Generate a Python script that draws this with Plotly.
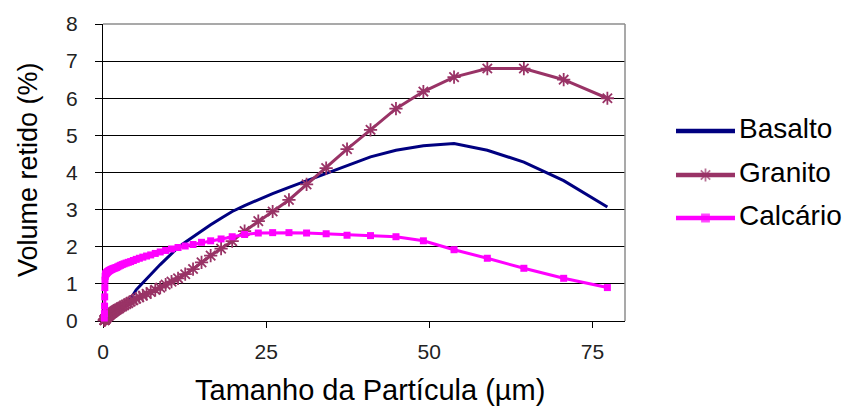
import plotly.graph_objects as go

# Particle size classes (µm) and retained volume (%) per material
size_um = [0.20, 0.22, 0.24, 0.26, 0.28, 0.31, 0.34, 0.37, 0.40, 0.44, 0.48, 0.53,
           0.58, 0.63, 0.69, 0.76, 0.83, 0.91, 0.99, 1.09, 1.19, 1.30, 1.43, 1.56,
           1.71, 1.87, 2.05, 2.25, 2.46, 2.70, 2.95, 3.23, 3.54, 3.87, 4.24, 4.65,
           5.09, 5.57, 6.10, 6.68, 7.31, 8.01, 8.77, 9.6, 10.5, 11.5, 12.6, 13.8,
           15.1, 16.5, 18.1, 19.8, 21.7, 23.8, 26.0, 28.5, 31.2, 34.2, 37.4, 41.0,
           44.9, 49.1, 53.8, 58.9, 64.5, 70.6, 77.3]

basalto = [0.00, 0.00, 0.01, 0.01, 0.01, 0.02, 0.02, 0.03, 0.03, 0.04, 0.04, 0.05,
           0.05, 0.06, 0.07, 0.08, 0.09, 0.10, 0.11, 0.12, 0.13, 0.14, 0.15, 0.17,
           0.19, 0.21, 0.23, 0.25, 0.28, 0.31, 0.34, 0.38, 0.43, 0.50, 0.60, 0.72,
           0.84, 0.93, 1.03, 1.13, 1.25, 1.38, 1.52, 1.66, 1.82, 1.98, 2.12, 2.27,
           2.42, 2.59, 2.77, 2.95, 3.11, 3.27, 3.43, 3.60, 3.78, 3.98, 4.20, 4.42,
           4.60, 4.72, 4.78, 4.60, 4.28, 3.78, 3.07]

granito = [0.02, 0.02, 0.03, 0.03, 0.04, 0.04, 0.05, 0.05, 0.06, 0.07, 0.08, 0.09,
           0.10, 0.11, 0.12, 0.13, 0.14, 0.15, 0.16, 0.18, 0.19, 0.21, 0.22, 0.24,
           0.26, 0.28, 0.30, 0.32, 0.34, 0.37, 0.39, 0.42, 0.45, 0.48, 0.52, 0.56,
           0.60, 0.64, 0.68, 0.73, 0.78, 0.84, 0.90, 0.98, 1.06, 1.15, 1.26, 1.40,
           1.58, 1.76, 1.95, 2.15, 2.42, 2.69, 2.95, 3.26, 3.68, 4.12, 4.63, 5.15,
           5.72, 6.18, 6.57, 6.80, 6.80, 6.50, 6.00]

calcario = [0.08, 0.20, 0.40, 0.65, 0.90, 1.10, 1.20, 1.24, 1.26, 1.27, 1.28, 1.29,
            1.30, 1.31, 1.32, 1.33, 1.34, 1.35, 1.36, 1.37, 1.38, 1.39, 1.40, 1.41,
            1.42, 1.43, 1.44, 1.46, 1.48, 1.50, 1.52, 1.54, 1.56, 1.58, 1.60, 1.63,
            1.66, 1.69, 1.72, 1.75, 1.78, 1.82, 1.86, 1.90, 1.94, 1.98, 2.02, 2.06,
            2.12, 2.16, 2.21, 2.27, 2.33, 2.37, 2.38, 2.38, 2.37, 2.35, 2.31, 2.30,
            2.27, 2.16, 1.92, 1.69, 1.42, 1.15, 0.90]

series_names = ["Basalto", "Granito", "Calcário"]
x_ticks = [0, 25, 50, 75]

W, H = 844, 408
FONT = "Liberation Sans, Arial, sans-serif"
NAVY, PLUM, MAGENTA = "#000080", "#993366", "#FF00FF"

# Plot area in pixels
PX_L, PX_R, PX_T, PX_B = 103, 625, 24, 321

STAR = dict(symbol="asterisk-open", size=11, line=dict(color=PLUM, width=1.8))

fig = go.Figure()

fig.add_trace(go.Scatter(x=size_um, y=basalto, mode="lines", name=series_names[0],
                         line=dict(color=NAVY, width=3), cliponaxis=False))
fig.add_trace(go.Scatter(x=size_um, y=granito, mode="lines+markers", name=series_names[1],
                         line=dict(color=PLUM, width=3), marker=STAR, cliponaxis=False))
fig.add_trace(go.Scatter(x=size_um, y=calcario, mode="lines+markers", name=series_names[2],
                         line=dict(color=MAGENTA, width=3),
                         marker=dict(symbol="square", size=7, color=MAGENTA),
                         cliponaxis=False))

# Legend drawn on a pixel-space overlay: line sample with one marker in the middle
leg_rows = [131, 175, 218]
leg_x0, leg_x1 = 676, 735
leg_styles = [
    dict(color=NAVY, symbol=None, msize=0),
    dict(color=PLUM, symbol="asterisk-open", msize=11),
    dict(color=MAGENTA, symbol="square", msize=7),
]
for yrow, st in zip(leg_rows, leg_styles):
    xs = [leg_x0, (leg_x0 + leg_x1) / 2, leg_x1]
    if st["symbol"] is None:
        fig.add_trace(go.Scatter(x=xs, y=[yrow] * 3, mode="lines",
                                 line=dict(color=st["color"], width=4.5),
                                 xaxis="x2", yaxis="y2", hoverinfo="skip", showlegend=False))
    else:
        fig.add_trace(go.Scatter(x=xs, y=[yrow] * 3, mode="lines+markers",
                                 line=dict(color=st["color"], width=4.5),
                                 marker=dict(symbol=st["symbol"], size=[0, st["msize"], 0],
                                             color=st["color"],
                                             line=dict(color=st["color"], width=1.8)),
                                 xaxis="x2", yaxis="y2", hoverinfo="skip", showlegend=False))

annotations = []
for yrow, name in zip(leg_rows, series_names):
    annotations.append(dict(text=name, x=737 / W, y=1 - (yrow - 3) / H, xref="paper", yref="paper",
                            xanchor="left", yanchor="middle", showarrow=False,
                            font=dict(family=FONT, size=28, color="black")))
annotations.append(dict(text="Volume retido (%)", x=28 / W, y=1 - 170 / H, xref="paper", yref="paper",
                        textangle=-90, xanchor="center", yanchor="middle", showarrow=False,
                        font=dict(family=FONT, size=27, color="black")))
annotations.append(dict(text="Tamanho da Partícula (µm)", x=370 / W, y=1 - 390 / H,
                        xref="paper", yref="paper", xanchor="center", yanchor="middle",
                        showarrow=False, font=dict(family=FONT, size=29, color="black")))

shapes = [
    dict(type="line", xref="x domain", yref="y domain", x0=0, x1=1, y0=1, y1=1,
         line=dict(color="#8C8C8C", width=1.5), layer="above"),
    dict(type="line", xref="x domain", yref="y domain", x0=1, x1=1, y0=0, y1=1,
         line=dict(color="#8C8C8C", width=1.5), layer="above"),
]

fig.update_layout(
    width=W, height=H,
    margin=dict(l=0, r=0, t=0, b=0),
    paper_bgcolor="white", plot_bgcolor="rgba(0,0,0,0)",
    showlegend=False,
    font=dict(family=FONT, color="black"),
    xaxis=dict(domain=[PX_L / W, PX_R / W], range=[0, 80], tickvals=x_ticks,
               ticks="outside", ticklen=6, tickcolor="black", tickwidth=1,
               showline=True, linecolor="black", linewidth=1, showgrid=False,
               zeroline=False, tickfont=dict(size=21, color="#222"), layer="below traces",
               ticklabelstandoff=6, anchor="y", automargin=False),
    yaxis=dict(domain=[1 - PX_B / H, 1 - PX_T / H], range=[0, 8], dtick=1,
               ticks="outside", ticklen=7, tickcolor="black", tickwidth=1,
               showline=True, linecolor="black", linewidth=1, showgrid=True,
               gridcolor="black", gridwidth=1, zeroline=False,
               tickfont=dict(size=21, color="#222"), layer="below traces",
               ticklabelstandoff=13, anchor="x", automargin=False),
    xaxis2=dict(domain=[0, 1], range=[0, W], visible=False, anchor="y2", fixedrange=True),
    yaxis2=dict(domain=[0, 1], range=[H, 0], visible=False, anchor="x2", fixedrange=True),
    annotations=annotations,
    shapes=shapes,
)

fig.write_html("out.html")
